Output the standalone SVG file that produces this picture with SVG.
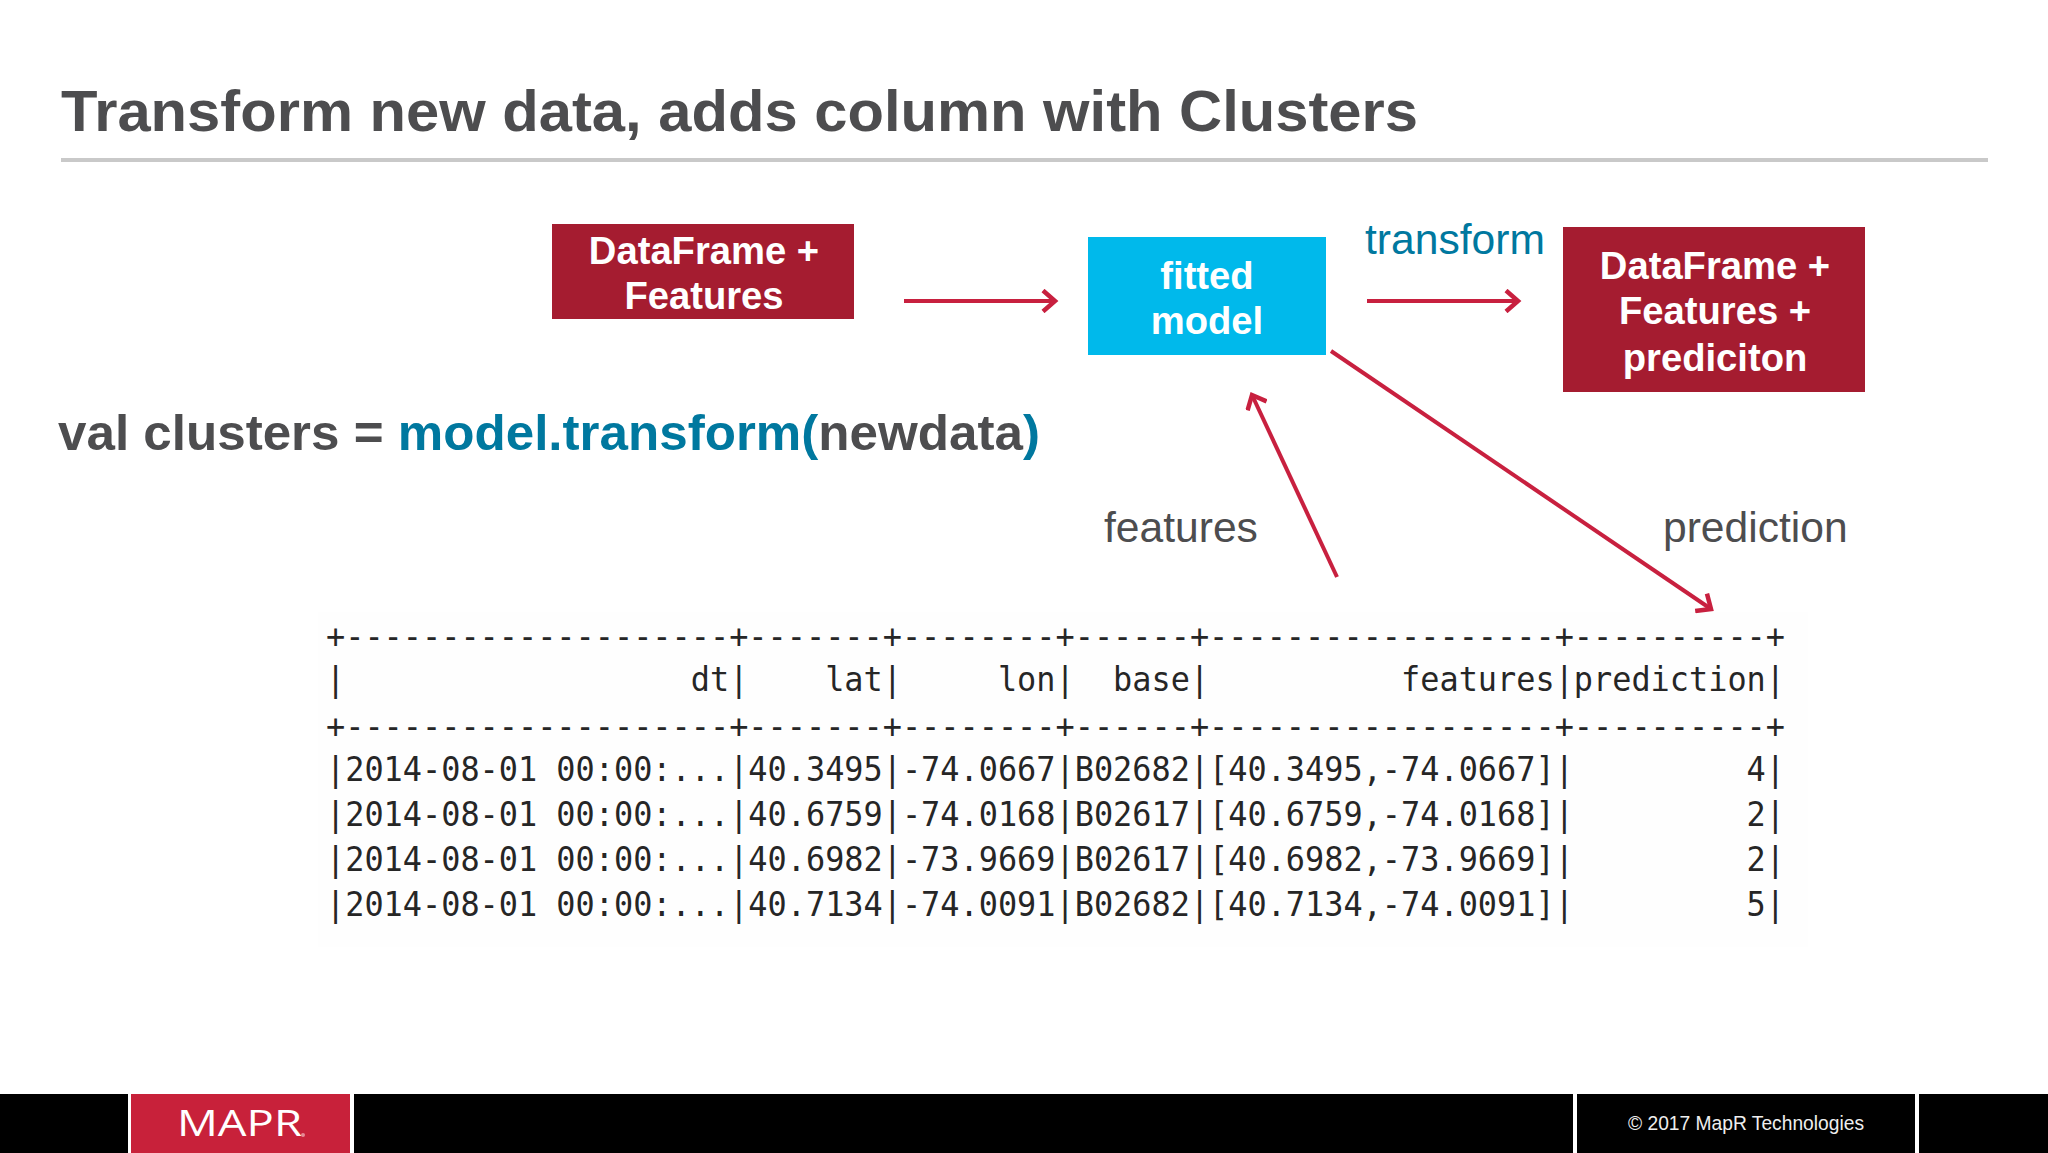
<svg xmlns="http://www.w3.org/2000/svg" width="2048" height="1153" viewBox="0 0 2048 1153">
<style>
text{font-family:"Liberation Sans",Arial,sans-serif}
.box{font-weight:700;font-size:38.200px;fill:#fff;text-anchor:middle}
.red{fill:#a51c30}
.lbl{font-size:42.600px;fill:#4d4d4f}
.mono{font-family:"DejaVu Sans Mono","Liberation Mono",monospace;font-size:34px;fill:#262626;white-space:pre}
.conn{fill:none;stroke:#c8203f;stroke-width:4;marker-end:url(#a)}
.ft{fill:#000}
</style>
<defs>
<marker id="a" markerUnits="userSpaceOnUse" markerWidth="24" markerHeight="24" refX="18" refY="12" orient="auto">
<path d="M6 1.500L18 12L6 22.500" fill="none" stroke="#c8203f" stroke-width="4.500"/>
</marker>
</defs>
<rect width="2048" height="1153" fill="#fff"/>
<rect x="318" y="612" width="1490" height="335" fill="#fefefe"/>
<g id="title">
<text x="61" y="131" font-weight="700" font-size="58" fill="#4d4d4f" textLength="1357" lengthAdjust="spacingAndGlyphs">Transform new data, adds column with Clusters</text>
<rect x="61" y="158" width="1927" height="4" fill="#c9c9c9"/>
</g>
<g id="code">
<text x="58" y="450" font-weight="700" font-size="50" fill="#4d4d4f" textLength="982" lengthAdjust="spacingAndGlyphs">val clusters = <tspan fill="#00789f">model.transform(</tspan>newdata<tspan fill="#00789f">)</tspan></text>
</g>
<g id="node-dataframe-features">
<rect class="red" x="552" y="224" width="302" height="95"/>
<text class="box" x="704" y="264">DataFrame +</text>
<text class="box" x="704" y="309">Features</text>
</g>
<g id="node-fitted-model">
<rect x="1088" y="237" width="238" height="118" fill="#00b9eb"/>
<text class="box" x="1207" y="289">fitted</text>
<text class="box" x="1207" y="334">model</text>
</g>
<g id="node-dataframe-prediction">
<rect class="red" x="1563" y="227" width="302" height="165"/>
<text class="box" x="1715" y="279">DataFrame +</text>
<text class="box" x="1715" y="324">Features +</text>
<text class="box" x="1715" y="371">prediciton</text>
</g>
<g id="connectors">
<path class="conn" d="M904 301H1055"/>
<path class="conn" d="M1367 301H1518"/>
<path class="conn" d="M1337 577L1252 395"/>
<path class="conn" d="M1331 351L1711 609"/>
</g>
<g id="labels">
<text class="lbl" x="1365" y="254" style="fill:#00789f">transform</text>
<text class="lbl" x="1104" y="542">features</text>
<text class="lbl" x="1663" y="542">prediction</text>
</g>
<g id="table" xml:space="preserve">
<text class="mono" x="326" y="648" textLength="1459" lengthAdjust="spacingAndGlyphs">+--------------------+-------+--------+------+------------------+----------+</text>
<text class="mono" x="326" y="691" textLength="1459" lengthAdjust="spacingAndGlyphs">|                  dt|    lat|     lon|  base|          features|prediction|</text>
<text class="mono" x="326" y="738" textLength="1459" lengthAdjust="spacingAndGlyphs">+--------------------+-------+--------+------+------------------+----------+</text>
<text class="mono" x="326" y="781" textLength="1459" lengthAdjust="spacingAndGlyphs">|2014-08-01 00:00:...|40.3495|-74.0667|B02682|[40.3495,-74.0667]|         4|</text>
<text class="mono" x="326" y="826" textLength="1459" lengthAdjust="spacingAndGlyphs">|2014-08-01 00:00:...|40.6759|-74.0168|B02617|[40.6759,-74.0168]|         2|</text>
<text class="mono" x="326" y="871" textLength="1459" lengthAdjust="spacingAndGlyphs">|2014-08-01 00:00:...|40.6982|-73.9669|B02617|[40.6982,-73.9669]|         2|</text>
<text class="mono" x="326" y="916" textLength="1459" lengthAdjust="spacingAndGlyphs">|2014-08-01 00:00:...|40.7134|-74.0091|B02682|[40.7134,-74.0091]|         5|</text>
</g>
<g id="footer">
<rect class="ft" y="1094" width="128" height="59"/>
<rect x="131" y="1094" width="219" height="59" fill="#c8213a"/>
<rect class="ft" x="354" y="1094" width="1219" height="59"/>
<rect class="ft" x="1577" y="1094" width="338" height="59"/>
<rect class="ft" x="1919" y="1094" width="129" height="59"/>
<text x="177" y="1136" font-family="Open Sans" font-size="37" fill="#fff" textLength="125" lengthAdjust="spacingAndGlyphs" style="font-family:'Open Sans',sans-serif">MAPR</text>
<circle cx="303" cy="1135" r="2" fill="#e58a96"/>
<text x="1628" y="1130" font-size="20.500" fill="#eee" textLength="236" lengthAdjust="spacingAndGlyphs">© 2017 MapR Technologies</text>
</g>
</svg>
